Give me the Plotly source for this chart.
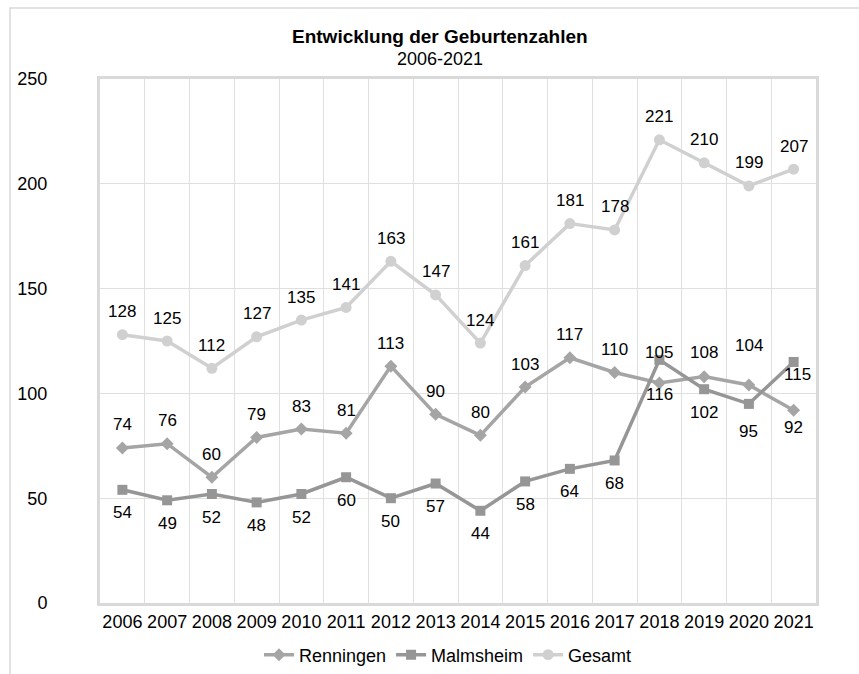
import plotly.graph_objects as go

years = ["2006", "2007", "2008", "2009", "2010", "2011", "2012", "2013",
         "2014", "2015", "2016", "2017", "2018", "2019", "2020", "2021"]
renningen = [74, 76, 60, 79, 83, 81, 113, 90, 80, 103, 117, 110, 105, 108, 104, 92]
malmsheim = [54, 49, 52, 48, 52, 60, 50, 57, 44, 58, 64, 68, 116, 102, 95, 115]
gesamt = [128, 125, 112, 127, 135, 141, 163, 147, 124, 161, 181, 178, 221, 210, 199, 207]

y_ticks = [0, 50, 100, 150, 200, 250]

# label offsets in pixels (style only)
ren_shift = [23] * 12 + [30, 24, 40, -17]
mal_shift = [-23] * 12 + [-35, -23, -28, -13]
mal_xshift = [0] * 15 + [4]
ges_shift = [23] * 16

FONT = "Liberation Sans, Arial, sans-serif"
LBL = 17

fig = go.Figure()
fig.add_trace(go.Scatter(
    x=years, y=renningen, name="Renningen", mode="lines+markers",
    line=dict(color="#a5a5a5", width=3.5),
    marker=dict(symbol="diamond", size=10, color="#a5a5a5"),
))
fig.add_trace(go.Scatter(
    x=years, y=malmsheim, name="Malmsheim", mode="lines+markers",
    line=dict(color="#969696", width=3.5),
    marker=dict(symbol="square", size=10, color="#969696"),
))
fig.add_trace(go.Scatter(
    x=years, y=gesamt, name="Gesamt", mode="lines+markers",
    line=dict(color="#d0d0d0", width=3.5),
    marker=dict(symbol="circle", size=11, color="#d0d0d0"),
))

annotations = []
for vals, shifts, xs in [(renningen, ren_shift, [0] * 16),
                         (malmsheim, mal_shift, mal_xshift),
                         (gesamt, ges_shift, [0] * 16)]:
    for i, (v, s, xs_) in enumerate(zip(vals, shifts, xs)):
        annotations.append(dict(
            x=i, y=v, xref="x", yref="y", text=str(v), showarrow=False,
            yshift=s, xshift=xs_, xanchor="center", yanchor="middle",
            font=dict(family=FONT, size=LBL, color="#000000")))

L, R, T, B = 100, 43, 79, 71
W, H = 859, 674
pw, ph = W - L - R, H - T - B

annotations += [
    dict(text="<b>Entwicklung der Geburtenzahlen</b>", xref="paper", yref="paper",
         x=(440 - L) / pw, y=(T + ph - 37) / ph, xanchor="center", yanchor="middle",
         showarrow=False, font=dict(size=19, family=FONT)),
    dict(text="2006-2021", xref="paper", yref="paper",
         x=(440 - L) / pw, y=(T + ph - 59) / ph, xanchor="center", yanchor="middle",
         showarrow=False, font=dict(size=18, family=FONT)),
]

fig.update_layout(
    width=W, height=H,
    margin=dict(l=L, r=R, t=T, b=B, autoexpand=False),
    paper_bgcolor="white", plot_bgcolor="white",
    font=dict(family=FONT, size=18, color="#000000"),
    showlegend=True,
    legend=dict(orientation="h", xref="container", yref="container",
                x=448 / W, xanchor="center",
                y=1 - 655 / H, yanchor="middle",
                font=dict(size=18), tracegroupgap=0),
    xaxis=dict(type="category", range=[-0.5, 15.5], tickson="boundaries",
               showgrid=True, gridcolor="#e0e0e0", gridwidth=1,
               showline=True, linecolor="#d9d9d9", linewidth=3, mirror=True,
               ticks="", tickfont=dict(size=18), zeroline=False,
               tickangle=0, ticklabelstandoff=0),
    yaxis=dict(range=[0, 250], tickvals=y_ticks, ticktext=[str(v) for v in y_ticks],
               showgrid=True, gridcolor="#e0e0e0", gridwidth=1,
               showline=True, linecolor="#d9d9d9", linewidth=3, mirror=True,
               ticks="", tickfont=dict(size=18), zeroline=False,
               ticklabelstandoff=46),
    annotations=annotations,
    shapes=[
        dict(type="rect", xref="paper", yref="paper",
             x0=(10 - L) / pw, x1=(W + 20 - L) / pw,
             y0=(T + ph - 8) / ph, y1=(T + ph - H - 20) / ph,
             line=dict(color="#d9d9d9", width=1.5), layer="below"),
    ],
)

fig.write_html("out.html")
